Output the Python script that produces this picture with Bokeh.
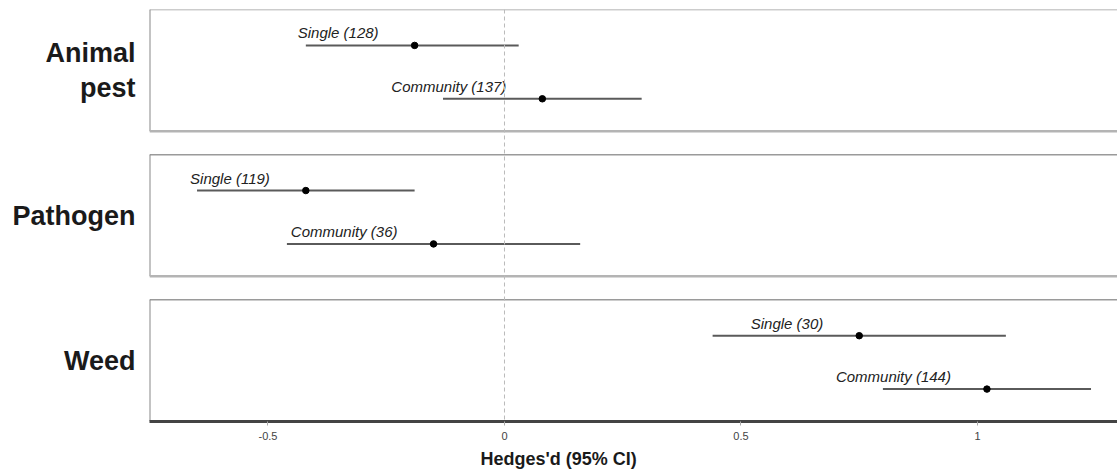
from bokeh.plotting import figure
from bokeh.models import Range1d, FixedTicker, Span, Title, ColumnDataSource
from bokeh.embed import file_html
from bokeh.resources import INLINE
from bokeh.core.properties import value

# ---------------- data ----------------
groups = ["Animal\npest", "Pathogen", "Weed"]
row_types = ["Single", "Community"]
n_single = [128, 119, 30]
n_community = [137, 36, 144]
est_single = [-0.19, -0.42, 0.75]
lo_single = [-0.42, -0.65, 0.44]
hi_single = [0.03, -0.19, 1.06]
est_community = [0.08, -0.15, 1.02]
lo_community = [-0.13, -0.46, 0.80]
hi_community = [0.29, 0.16, 1.24]
x_ticks = [-0.5, 0, 0.5, 1]
x_tick_labels = ["-0.5", "0", "0.5", "1"]
x_title = "Hedges'd (95% CI)"

# ---------------- layout (screen-like y units) ----------------
PANEL_H = 122.0
GAP = 23.5
ROW_OFF = [36.0, 89.5]
FRAME_H = 3 * PANEL_H + 2 * GAP
X0, X1 = -0.7505, 1.296

panel_top = [i * (PANEL_H + GAP) for i in range(len(groups))]
panel_bot = [t + PANEL_H for t in panel_top]
panel_mid = [t + PANEL_H / 2 for t in panel_top]

xs_est, xs_lo, xs_hi, ys, labels = [], [], [], [], []
for i in range(len(groups)):
    for j, (e, lo, hi, n) in enumerate([
        (est_single[i], lo_single[i], hi_single[i], n_single[i]),
        (est_community[i], lo_community[i], hi_community[i], n_community[i]),
    ]):
        xs_est.append(e)
        xs_lo.append(lo)
        xs_hi.append(hi)
        ys.append(panel_top[i] + ROW_OFF[j])
        labels.append(f"{row_types[j]} ({n})")

src = ColumnDataSource(dict(est=xs_est, lo=xs_lo, hi=xs_hi, y=ys,
                            ty=[y - 4 for y in ys], label=labels))

p = figure(width=1117, height=473, output_backend="svg", toolbar_location=None,
           x_range=Range1d(X0, X1), y_range=Range1d(FRAME_H, 0),
           min_border_left=149, min_border_right=0, min_border_top=9,
           min_border_bottom=51)
p.outline_line_color = None
p.xgrid.visible = False
p.ygrid.visible = False
p.background_fill_color = "white"

# zero line
p.add_layout(Span(location=0, dimension="height", line_color="#bbbbbb",
                  line_dash="4 3", line_width=1))

# panel borders
p.segment(x0=[X0] * 3, x1=[X1] * 3, y0=panel_top, y1=panel_top,
          line_color="#9a9a9a", line_width=1.5)
p.segment(x0=[X0] * 3, x1=[X0] * 3, y0=panel_top, y1=panel_bot,
          line_color="#888888", line_width=2)
p.segment(x0=[X0] * 2, x1=[X1] * 2, y0=panel_bot[:2], y1=panel_bot[:2],
          line_color="#b4b4b4", line_width=2.5)

# CI lines, points, labels
p.segment(x0="lo", x1="hi", y0="y", y1="y", source=src,
          line_color="#5a5a5a", line_width=2)
p.scatter(x="est", y="y", source=src, size=6.5, color="black")
p.text(x="est", y="ty", text="label", source=src, x_offset=-36,
       text_align="right", text_baseline="bottom",
       text_font=value("Liberation Sans"), text_font_style="italic",
       text_font_size="15px", text_color="#222222")

# x axis
xa = p.xaxis[0]
xa.ticker = FixedTicker(ticks=x_ticks)
xa.major_label_overrides = {t: l for t, l in zip(x_ticks, x_tick_labels)}
xa.axis_line_color = "#444444"
xa.axis_line_width = 3
xa.major_tick_line_color = "#aaaaaa"
xa.major_tick_out = 4
xa.major_tick_in = 0
xa.minor_tick_line_color = None
xa.major_label_standoff = 6
xa.major_label_text_font = "Liberation Sans"
xa.major_label_text_font_size = "11px"
xa.major_label_text_color = "#444444"

# y axis as group labels
ya = p.yaxis[0]
ya.ticker = FixedTicker(ticks=panel_mid)
ya.major_label_overrides = {m: g for m, g in zip(panel_mid, groups)}
ya.axis_line_color = None
ya.major_tick_line_color = None
ya.minor_tick_line_color = None
ya.major_label_standoff = 8
ya.major_label_text_font = "Liberation Sans"
ya.major_label_text_font_style = "bold"
ya.major_label_text_font_size = "27px"
ya.major_label_text_color = "#1a1a1a"
ya.major_label_text_line_height = 1.15

p.add_layout(Title(text=x_title, align="left", offset=331, standoff=9,
                   text_font="Liberation Sans", text_font_style="bold",
                   text_font_size="18px", text_color="#1a1a1a",
                   text_line_height=1.0), "below")

open("out.html", "w").write(file_html(p, INLINE))
